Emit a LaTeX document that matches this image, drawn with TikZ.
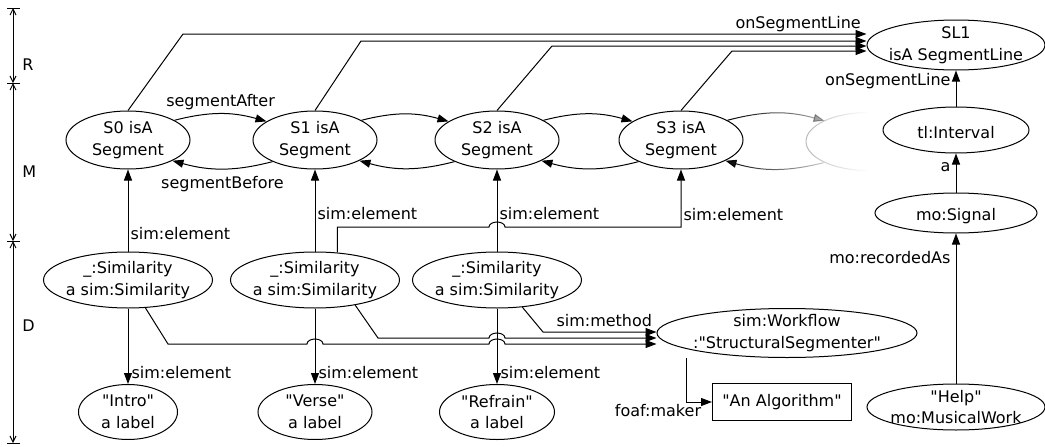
\documentclass[tikz,border=0pt]{standalone}
\usepackage{fontspec}
\setmainfont{DejaVu Sans}[Ligatures=TeXOff]
\usetikzlibrary{shapes.geometric, arrows.meta, fadings}

\tikzfading[name=ghostfade, left color=transparent!0, right color=transparent!100]
\tikzfading[name=fwdfade, left color=transparent!0, right color=transparent!70]
\tikzfading[name=backfade, left color=transparent!0, right color=transparent!80]

\begin{document}
\begin{tikzpicture}[x=1pt, y=1pt, line width=1pt,
    font=\fontsize{16}{21.5}\selectfont,
    ell/.style={ellipse, draw, inner sep=-25pt, align=center, execute at begin node={\rule{0pt}{18pt}}},
    seg/.style={ell, minimum width=124pt, minimum height=58pt},
    sim/.style={ell, minimum width=169pt, minimum height=56pt},
    lab/.style={ell, minimum height=55pt},
    arr/.style={-{Triangle[length=11pt, width=8pt]}},
    lbl/.style={inner sep=2pt},
    bar/.style={{Straight Barb[length=6pt, width=6pt]}-{Straight Barb[length=6pt, width=6pt]}}
]
  \useasboundingbox (0,0) rectangle (1045,-447);

  % layers R, M, D
  \foreach \y in {8,83,241,443}
    \draw (7,-\y) -- (20,-\y);
  \draw[bar] (13,-8) -- (13,-83) node[lbl, pos=0.76, right=7pt] (lr) {R};
  \draw[bar] (13,-83) -- (13,-241) node[lbl, pos=0.56, right=7pt] (lm) {M};
  \draw[bar] (13,-241) -- (13,-443) node[lbl, pos=0.42, right=7pt] (ld) {D};

  % segments
  \node[seg] (seg0) at (128,-140) {S0 isA\\Segment};
  \node[seg] (seg1) at (315,-140) {S1 isA\\Segment};
  \node[seg] (seg2) at (497,-140) {S2 isA\\Segment};
  \node[seg] (seg3) at (681,-140) {S3 isA\\Segment};
  \node[seg, draw=none] (seg4) at (868,-142) {};
  \node[ell, minimum width=178pt, minimum height=50pt] (sl1) at (956,-45) {SL1\\isA SegmentLine};

  % signal side
  \node[ell, minimum width=146pt, minimum height=46pt] (intv) at (956,-130) {tl:Interval};
  \node[ell, minimum width=162pt, minimum height=40pt] (sig) at (956,-213) {mo:Signal};
  \node[ell, minimum width=178pt, minimum height=46pt] (help) at (956,-407) {"Help"\\mo:MusicalWork};

  % similarities
  \node[sim] (sim0) at (128,-280) {\_:Similarity\\a sim:Similarity};
  \node[sim] (sim1) at (315,-280) {\_:Similarity\\a sim:Similarity};
  \node[sim] (sim2) at (497,-280) {\_:Similarity\\a sim:Similarity};
  \node[lab, minimum width=99pt] (lab0) at (128,-412) {"Intro"\\a label};
  \node[lab, minimum width=114pt] (lab1) at (315,-412) {"Verse"\\a label};
  \node[lab, minimum width=115pt] (lab2) at (497,-412) {"Refrain"\\a label};
  \node[ell, minimum width=260pt, minimum height=49pt] (wf) at (787,-333) {sim:Workflow\\:"StructuralSegmenter"};
  \node[draw, minimum width=139pt, minimum height=37pt, inner sep=0pt] (alg) at (782,-402) {"An Algorithm"};

  % onSegmentLine
  \draw[arr] (seg0.north) -- (183,-34) -- (sl1.west |- 0,-34) node[lbl, pos=0.9, above] (osl) {onSegmentLine};
  \draw[arr] (seg1.north) -- (361,-41) -- (sl1.west |- 0,-41);
  \draw[arr] (seg2.north) -- (552,-46) -- (sl1.west |- 0,-46);
  \draw[arr] (seg3.north) -- (732,-51) -- (sl1.west |- 0,-51);

  % segmentAfter / segmentBefore
  \draw[arr] (seg0.23) to[bend left=15] node[lbl, above=2pt] (sa) {segmentAfter} (seg1.159);
  \draw[arr] (seg1.207) to[bend left=15] node[lbl, below=5pt] (sb) {segmentBefore} (seg0.335);
  \foreach \i/\j in {1/2, 2/3} {
    \draw[arr] (seg\i.23) to[bend left=15] (seg\j.159);
    \draw[arr] (seg\j.207) to[bend left=15] (seg\i.335);
  }
  % next segment, fading out
  \draw[gray!55, path fading=ghostfade] (seg4.north) arc[start angle=90, end angle=270, x radius=62, y radius=29];
  \draw[arr, path fading=fwdfade] (seg3.23) to[bend left=15] (seg4.154);
  \draw[arr, path fading=backfade] (seg4.205) to[bend left=15] (seg3.335);

  % sim:element
  \draw[arr] (sim0) -- (seg0) node[lbl, pos=0.22, right] (e0) {sim:element};
  \draw[arr] (sim1) -- (seg1) node[lbl, pos=0.46, right] (e1) {sim:element};
  \draw[arr] (sim2) -- (seg2) node[lbl, pos=0.46, right] (e2) {sim:element};
  \draw[arr] (sim1.51) |- (489,-227) arc[start angle=180, end angle=0, x radius=8, y radius=5]
    -| (seg3.south) node[lbl, pos=0.61, right] (e3) {sim:element};
  \draw[arr] (sim0) -- (lab0) node[lbl, pos=0.85, right=1pt] (f0) {sim:element};
  \draw[arr] (sim1) -- (lab1) node[lbl, pos=0.85, right=1pt] (f1) {sim:element};
  \draw[arr] (sim2) -- (lab2) node[lbl, pos=0.85, right=1pt] (f2) {sim:element};

  % sim:method
  \draw[arr] (sim0.302) -- (168,-344) -- (307,-344) arc[start angle=180, end angle=0, x radius=8, y radius=5]
    -- (489,-344) arc[start angle=180, end angle=0, x radius=8, y radius=5] -- (wf.west |- 0,-344);
  \draw[arr] (sim1.328) -- (378,-338) -- (489,-338) arc[start angle=180, end angle=0, x radius=8, y radius=5]
    -- (wf.west |- 0,-338);
  \draw[arr] (sim2.313) -- (543,-332) -- (wf.west |- 0,-332) node[lbl, pos=0.54, above=3pt] (sm) {sim:method};
  \draw[arr] ([xshift=-101pt]wf.south) |- (alg) node[lbl, pos=0.5, anchor=north, xshift=-28pt] (fm) {foaf:maker};

  % signal chain
  \draw[arr] (intv) -- (sl1) node[lbl, pos=0.7, left=3pt] (o2) {onSegmentLine};
  \draw[arr] (sig) -- (intv) node[lbl, pos=0.65, left=3pt] (aa) {a};
  \draw[arr] (help) -- (sig) node[lbl, pos=0.84, left=3pt] (ra) {mo:recordedAs};
\end{tikzpicture}
\end{document}
